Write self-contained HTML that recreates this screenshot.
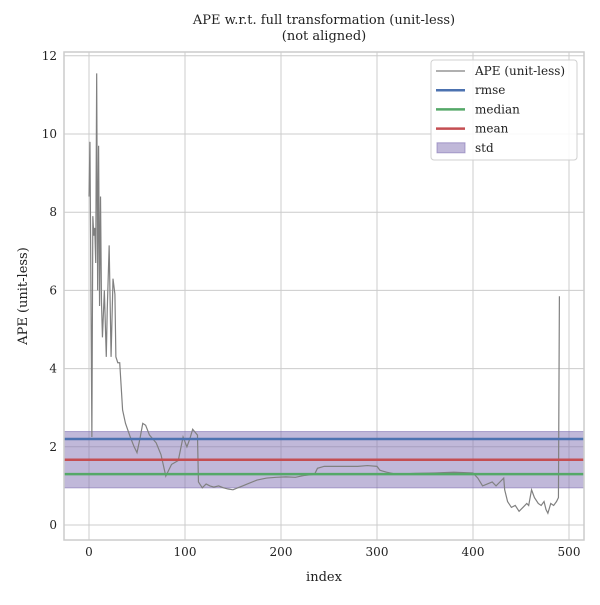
<!DOCTYPE html>
<html><head><meta charset="utf-8"><style>
body{margin:0;background:#fff}
svg text{font-family:"DejaVu Serif","Liberation Serif",serif;fill:#222}
</style></head><body>
<svg id="c" width="600" height="600" viewBox="0 0 600 600" xmlns="http://www.w3.org/2000/svg"></svg>
<script>
const idx=[0,1,3,4,5,6,7,8,9,10,11,12,13,14,16,18,19,21,23,25,27,28,30,32,35,38,43,47,50,53,56,59,63,70,75,80,86,93,98,102,105,108,113,114,118,122,126,130,135,140,145,150,155,160,165,175,185,195,205,215,225,235,238,245,260,280,290,300,303,310,320,340,360,380,400,405,410,415,420,424,428,432,433,436,440,444,448,452,456,458,461,464,468,471,474,476,478,481,484,487,489,490];
const ape=[8.4,9.8,2.25,7.9,7.4,7.6,6.7,11.55,6.0,9.7,5.6,8.4,5.7,4.8,6.0,4.3,5.5,7.15,4.3,6.3,5.9,4.3,4.15,4.15,2.94,2.6,2.25,2.0,1.85,2.2,2.6,2.55,2.3,2.1,1.8,1.25,1.55,1.65,2.25,2.0,2.2,2.45,2.3,1.1,0.95,1.05,1.0,0.97,1.0,0.95,0.92,0.9,0.95,1.0,1.05,1.15,1.2,1.22,1.23,1.22,1.27,1.3,1.45,1.5,1.5,1.5,1.52,1.5,1.4,1.35,1.3,1.32,1.33,1.35,1.33,1.2,1.0,1.05,1.1,1.0,1.1,1.2,0.9,0.6,0.45,0.5,0.35,0.45,0.55,0.5,0.9,0.7,0.55,0.5,0.6,0.4,0.3,0.55,0.5,0.6,0.7,5.85];
const rmse=2.2, median=1.3, mean=1.67, stdv=0.72;
const xTicks=[0,100,200,300,400,500];
const yTicks=[0,2,4,6,8,10,12];

const NS="http://www.w3.org/2000/svg", svg=document.getElementById('c');
const L=64,R=584,T=52,B=540;
const X=v=>89+0.96*v, Y=v=>525-39.1*v;
function mk(t,a,p){const e=document.createElementNS(NS,t);for(const k in a)e.setAttribute(k,a[k]);(p||svg).appendChild(e);return e;}
const clip=mk('clipPath',{id:'cl'});mk('rect',{x:L,y:T,width:R-L,height:B-T},clip);
const grid=mk('g',{});


xTicks.forEach(t=>{mk('line',{x1:X(t),x2:X(t),y1:T,y2:B,stroke:'#cccccc','stroke-width':1},grid);
 const tx=mk('text',{x:X(t),y:B+16,'text-anchor':'middle','font-size':12});tx.textContent=t;
 
 });
yTicks.forEach(t=>{mk('line',{x1:L,x2:R,y1:Y(t),y2:Y(t),stroke:'#cccccc','stroke-width':1},grid);
 const tx=mk('text',{x:L-7,y:Y(t)+4,'text-anchor':'end','font-size':12});tx.textContent=t;
 
 });
const band=mk('rect',{x:L,y:Y(mean+stdv),width:R-L,height:Y(mean-stdv)-Y(mean+stdv),fill:'#8172b3','fill-opacity':0.5,stroke:'#8172b3','stroke-opacity':0.6});


const ln=mk('polyline',{points:idx.map((v,i)=>X(v)+','+Y(ape[i])).join(' '),fill:'none',stroke:'#808080','stroke-width':1.2,'clip-path':'url(#cl)'});


[[rmse,'#4c72b0','rmse-line'],[mean,'#c44e52','mean-line'],[median,'#55a868','median-line']].forEach(([v,c,n])=>{
 const l=mk('line',{x1:L,x2:R,y1:Y(v),y2:Y(v),stroke:c,'stroke-width':2.5});
 
 });
const fr=mk('rect',{x:L,y:T,width:R-L,height:B-T,fill:'none',stroke:'#cccccc','stroke-width':1.5});


function txt(s,x,y,fs,a,n,rot){const t=mk('text',{x,y,'font-size':fs,'text-anchor':a});if(rot)t.setAttribute('transform',rot);t.textContent=s;
 
 return t;}
txt('APE w.r.t. full transformation (unit-less)',324,24,13,'middle','chart-title');
txt('(not aligned)',324,40,13,'middle','chart-subtitle');
txt('index',324,581,13,'middle','x-axis-title');
txt('APE (unit-less)',27,296,13,'middle','y-axis-title','rotate(-90 27 296)');
const lg=mk('g',{});


mk('rect',{x:431,y:60,width:146,height:100,rx:3,fill:'#fff','fill-opacity':0.85,stroke:'#d0d0d0'},lg);
const items=[['APE (unit-less)','#808080',1.2],['rmse','#4c72b0',2.5],['median','#55a868',2.5],['mean','#c44e52',2.5],['std',null,0]];
items.forEach(([s,c,w],i)=>{const y=71+i*19.2;
 if(c)mk('line',{x1:436,x2:465,y1:y,y2:y,stroke:c,'stroke-width':w},lg);
 else mk('rect',{x:437,y:y-5,width:28,height:10,fill:'#8172b3','fill-opacity':0.5,stroke:'#8172b3','stroke-opacity':0.6},lg);
 const t=mk('text',{x:475,y:y+4,'font-size':12},lg);t.textContent=s;
 
 });
</script>
</body></html>
